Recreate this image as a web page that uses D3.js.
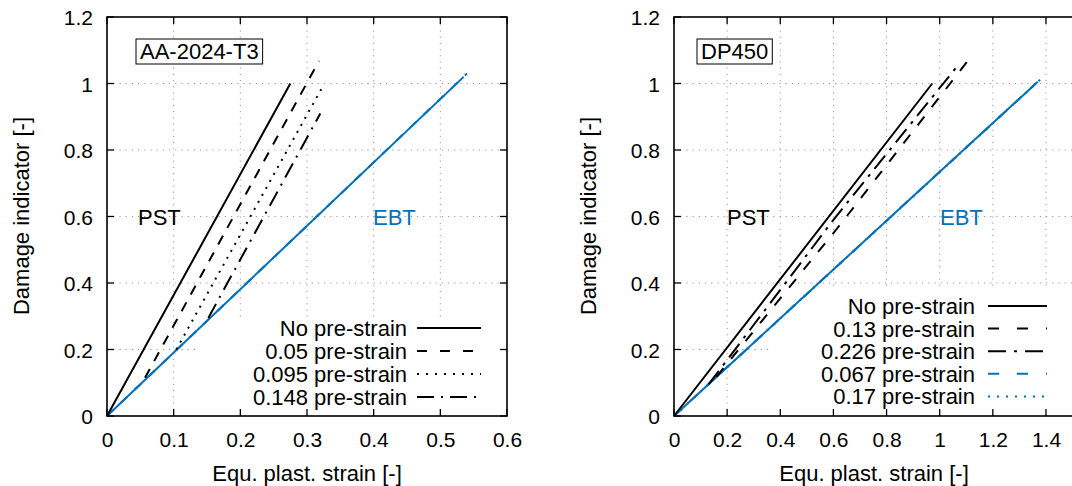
<!DOCTYPE html>
<html><head><meta charset="utf-8">
<script src="https://cdn.jsdelivr.net/npm/d3@7"></script>
<style>
html,body{margin:0;padding:0;background:#fff;}
svg{display:block;font-family:"Liberation Sans",Arial,Helvetica,sans-serif;}
</style></head>
<body><svg id="c" width="1072" height="486"></svg>
<script>
// ---------- data ----------
const yTicks = [0, 0.2, 0.4, 0.6, 0.8, 1, 1.2];
const aaXTicks = [0, 0.1, 0.2, 0.3, 0.4, 0.5, 0.6];
const dpXTicks = [0, 0.2, 0.4, 0.6, 0.8, 1, 1.2, 1.4];

const aaLegend = ["No pre-strain", "0.05 pre-strain", "0.095 pre-strain", "0.148 pre-strain"];
const aaPST = [
  [[0, 0], [0.275, 1.0]],
  [[0.057, 0.115], [0.318, 1.068]],
  [[0.104, 0.2], [0.322, 0.985]],
  [[0.152, 0.295], [0.32, 0.91]]
];
const aaEBT = [
  [[0, 0], [0.535, 1.02]],
  [[0, 0], [0.54, 1.03]]
];

const dpLegend = ["No pre-strain", "0.13 pre-strain", "0.226 pre-strain", "0.067 pre-strain", "0.17 pre-strain"];
const dpPST = [
  [[0, 0], [0.972, 1.0]],
  [[0.16, 0.118], [0.62, 0.57], [1.127, 1.09]],
  [[0.13, 0.095], [0.6, 0.59], [1.064, 1.05]]
];
const dpEBT = [
  [[0, 0], [1.362, 1.0]],
  [[0, 0], [1.37, 1.006]],
  [[0, 0], [1.39, 1.02]]
];

// ---------- drawing ----------
const BLUE = "#0072bd";
const svg = d3.select("#c");

function panel(cfg) {
  const x = d3.scaleLinear().domain(cfg.xDomain).range([cfg.left, cfg.right]);
  const y = d3.scaleLinear().domain([0, 1.2]).range([416, 17]);
  const g = svg.append("g");
  const inner = t => t > cfg.xDomain[0] && t < cfg.xDomain[1];

  // grid
  const grid = g.append("g").attr("stroke", "#9a9a9a").attr("stroke-width", 1)
    .attr("stroke-dasharray", "1.2,5");
  cfg.xTicks.filter(inner).forEach(t => grid.append("line")
    .attr("x1", x(t)).attr("x2", x(t)).attr("y1", y(0)).attr("y2", y(1.2)));
  yTicks.slice(1, -1).forEach(t => grid.append("line")
    .attr("x1", x(cfg.xDomain[0])).attr("x2", x(cfg.xDomain[1])).attr("y1", y(t)).attr("y2", y(t)));

  // opaque key box
  g.append("rect").attr("x", cfg.key.boxX).attr("y", cfg.key.boxY)
    .attr("width", x(cfg.xDomain[1]) - cfg.key.boxX).attr("height", y(0) - cfg.key.boxY)
    .attr("fill", "#fff");

  // axes
  const bottom = d3.axisBottom(x).tickValues(cfg.xTicks).tickSize(0).tickPadding(0)
    .tickFormat(d3.format("~g"));
  const ax = g.append("g").attr("transform", `translate(0,${y(0)})`).call(bottom);
  ax.select(".domain").remove();
  ax.selectAll("text").attr("y", 31).attr("dy", 0).attr("font-size", 21)
    .attr("fill", "#000").attr("font-family", "Liberation Sans, Arial, sans-serif");

  const leftAx = d3.axisLeft(y).tickValues(yTicks).tickSize(0).tickPadding(0)
    .tickFormat(d3.format("~g"));
  const ay = g.append("g").attr("transform", `translate(${cfg.left},0)`).call(leftAx);
  ay.select(".domain").remove();
  ay.selectAll("text").attr("x", -14).attr("dy", "0.36em").attr("font-size", 21)
    .attr("fill", "#000").attr("font-family", "Liberation Sans, Arial, sans-serif");

  // inward ticks on all sides
  const tk = g.append("g").attr("stroke", "#000").attr("stroke-width", 1.3);
  cfg.xTicks.forEach(t => {
    tk.append("line").attr("x1", x(t)).attr("x2", x(t)).attr("y1", y(0)).attr("y2", y(0) - 7);
    tk.append("line").attr("x1", x(t)).attr("x2", x(t)).attr("y1", y(1.2)).attr("y2", y(1.2) + 7);
  });
  yTicks.forEach(t => {
    tk.append("line").attr("x1", x(cfg.xDomain[0])).attr("x2", x(cfg.xDomain[0]) + 7).attr("y1", y(t)).attr("y2", y(t));
    tk.append("line").attr("x1", x(cfg.xDomain[1])).attr("x2", x(cfg.xDomain[1]) - 7).attr("y1", y(t)).attr("y2", y(t));
  });

  // lines
  const line = d3.line().x(d => x(d[0])).y(d => y(d[1]));
  cfg.ebt.forEach((s, i) => g.append("path").attr("d", line(s)).attr("fill", "none")
    .attr("stroke", BLUE).attr("stroke-width", 2).attr("stroke-dasharray", cfg.ebtDash[i]));
  cfg.pst.forEach((s, i) => g.append("path").attr("d", line(s)).attr("fill", "none")
    .attr("stroke", "#000").attr("stroke-width", 2).attr("stroke-dasharray", cfg.dash[i]));

  // frame
  g.append("rect").attr("x", x(cfg.xDomain[0])).attr("y", y(1.2))
    .attr("width", x(cfg.xDomain[1]) - x(cfg.xDomain[0])).attr("height", y(0) - y(1.2))
    .attr("fill", "none").attr("stroke", "#000").attr("stroke-width", 1.6);

  // title box
  const tb = g.append("g");
  const tt = tb.append("text").attr("x", cfg.titleX).attr("y", 59).attr("font-size", 22)
    .text(cfg.title);
  const bb = tt.node().getBBox();
  tb.insert("rect", "text").attr("x", bb.x - 4).attr("y", 39).attr("width", bb.width + 8)
    .attr("height", 25).attr("fill", "#fff").attr("stroke", "#000").attr("stroke-width", 1);

  // region labels
  g.append("text").attr("x", cfg.pstX).attr("y", 225).attr("font-size", 22).text("PST");
  g.append("text").attr("x", cfg.ebtX).attr("y", 225).attr("font-size", 22)
    .attr("fill", BLUE).text("EBT");

  // legend
  cfg.legend.forEach((lab, i) => {
    const cy = cfg.key.y0 + i * cfg.key.dy;
    g.append("text").attr("x", cfg.key.textX).attr("y", cy + 8).attr("text-anchor", "end")
      .attr("font-size", 22).text(lab);
    g.append("line").attr("x1", cfg.key.s0).attr("x2", cfg.key.s1).attr("y1", cy).attr("y2", cy)
      .attr("stroke", cfg.key.colors[i]).attr("stroke-width", 2)
      .attr("stroke-dasharray", cfg.key.dash[i]);
  });

  // axis titles
  g.append("text").attr("x", (cfg.left + cfg.titleRight) / 2).attr("y", 481)
    .attr("text-anchor", "middle").attr("font-size", 22).text("Equ. plast. strain [-]");
  g.append("text").attr("transform", `translate(${cfg.yTitleX},216) rotate(-90)`)
    .attr("text-anchor", "middle").attr("font-size", 22).text("Damage indicator [-]");
}

panel({
  xDomain: [0, 0.6], left: 107, right: 507, titleRight: 507, xTicks: aaXTicks,
  pst: aaPST, ebt: aaEBT,
  dash: [null, "10,9", "2,6", "16,7,2,7"], ebtDash: [null, "9,10"],
  title: "AA-2024-T3", titleX: 140, pstX: 138, ebtX: 373, yTitleX: 29,
  legend: aaLegend,
  key: { boxX: 200, boxY: 317, textX: 407, s0: 417, s1: 481, y0: 328, dy: 23,
    colors: ["#000", "#000", "#000", "#000"],
    dash: [null, "10,13", "2,7", "17,7,2,7"] }
});

panel({
  xDomain: [0, 1.6], left: 674, right: 674 + 265.7 * 1.6, titleRight: 1074, xTicks: dpXTicks,
  pst: dpPST, ebt: dpEBT,
  dash: [null, "11,12", "17,7,3,7"], ebtDash: [null, "10,12", "2,7"],
  title: "DP450", titleX: 701, pstX: 727, ebtX: 940, yTitleX: 596,
  legend: dpLegend,
  key: { boxX: 770, boxY: 287, textX: 975, s0: 988, s1: 1047, y0: 306, dy: 22.6,
    colors: ["#000", "#000", "#000", BLUE, BLUE],
    dash: [null, "11,18", "18,8,3,8", "11,18", "2,7"] }
});
</script></body></html>
